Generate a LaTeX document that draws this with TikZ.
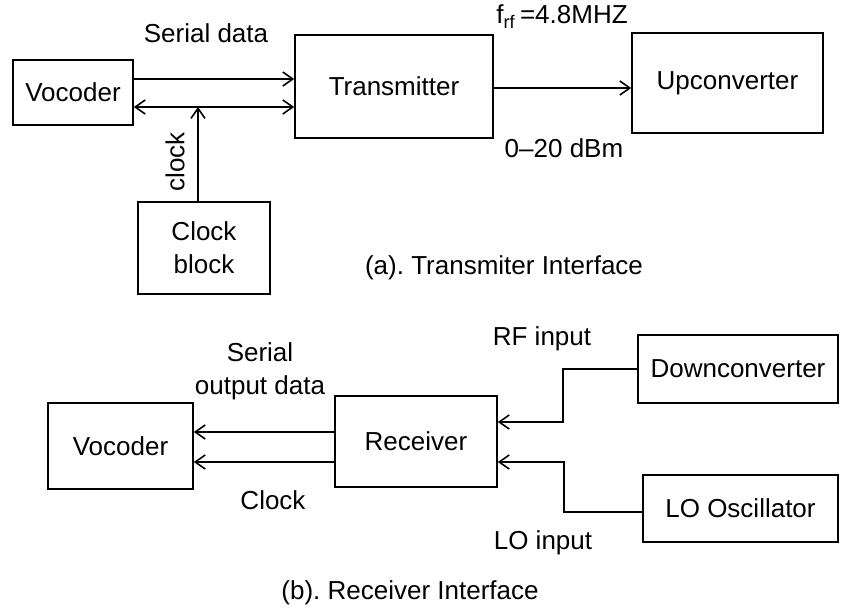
\documentclass[tikz,border=0pt]{standalone}
\usepackage{fontspec}
\setmainfont{Liberation Sans}
\usetikzlibrary{arrows.meta,positioning,calc}
\frenchspacing

\begin{document}
\begin{tikzpicture}[
  x=0.5pt, y=-0.5pt,
  every node/.style={font=\fontsize{13}{16.5}\selectfont},
  block/.style={draw, line width=0.8pt, inner sep=0pt, align=center},
  link/.style={line width=0.8pt},
  >={Straight Barb[length=5pt,width=7pt]}
]
\useasboundingbox (0,0) rectangle (841,608);

% (a) transmitter side
\node[block, minimum width=60pt, minimum height=32.5pt] (voc) at (73, 92.5) {Vocoder};
\node[block, minimum width=99pt, minimum height=51.5pt] (tx) at (394, 86.5) {Transmitter};
\node[block, minimum width=95.5pt, minimum height=50pt] (up) at (727.5, 83) {Upconverter};
\node[block, minimum width=66pt, minimum height=46pt] (clk) at (204, 248) {Clock\\block};

\draw[link, ->] ([yshift=6.75pt]voc.east) -- ([yshift=6.75pt]voc.east -| tx.west);
\draw[link, <->] ([yshift=-7.25pt]voc.east) -- ([yshift=-7.25pt]voc.east -| tx.west);
\coordinate (jn) at ($([xshift=-3pt]clk.north |- voc.east) + (0,14.5)$);
\draw[link, ->] ([xshift=-3pt]clk.north) -- (jn);
\draw[link, ->] ([yshift=-0.75pt]tx.east) -- ([yshift=-0.75pt]tx.east -| up.west);

\node (sdata) at (206, 33) {Serial data};
\node[rotate=90] (clklbl) at (175, 162) {clock};
\node (frf) at (562, 17) {f\textsubscript{rf}\,=4.8MHZ};
\node (dbm) at (564, 148) {0--20 dBm};
\node (capa) at (504, 268) {(a). Transmiter Interface};

% (b) receiver side
\node[block, minimum width=72.5pt, minimum height=43pt] (rvoc) at (120.5, 446) {Vocoder};
\node[block, minimum width=81pt, minimum height=45.5pt] (rx) at (416, 441.5) {Receiver};
\node[block, minimum width=100pt, minimum height=34pt] (down) at (738, 369) {Downconverter};
\node[block, minimum width=97.5pt, minimum height=33.5pt] (lo) at (740.5, 508.5) {LO Oscillator};

\draw[link, ->] ([yshift=4.75pt]rx.west) -- ([yshift=4.75pt]rx.west -| rvoc.east);
\draw[link, ->] ([yshift=-10.25pt]rx.west) -- ([yshift=-10.25pt]rx.west -| rvoc.east);
\draw[link, ->] (down.west) -- ++(-37pt,0) |- ([yshift=9.75pt]rx.east);
\draw[link, ->] ([yshift=-1.75pt]lo.west) -- ++(-39pt,0) |- ([yshift=-10.25pt]rx.east);

\node[align=center] (sodata) at (260, 371.5) {Serial\\output data};
\node (clkb) at (273, 500) {Clock};
\node (rfin) at (542, 339) {RF input};
\node (loin) at (543, 543) {LO input};
\node (capb) at (410, 593) {(b). Receiver Interface};
\end{tikzpicture}
\end{document}
